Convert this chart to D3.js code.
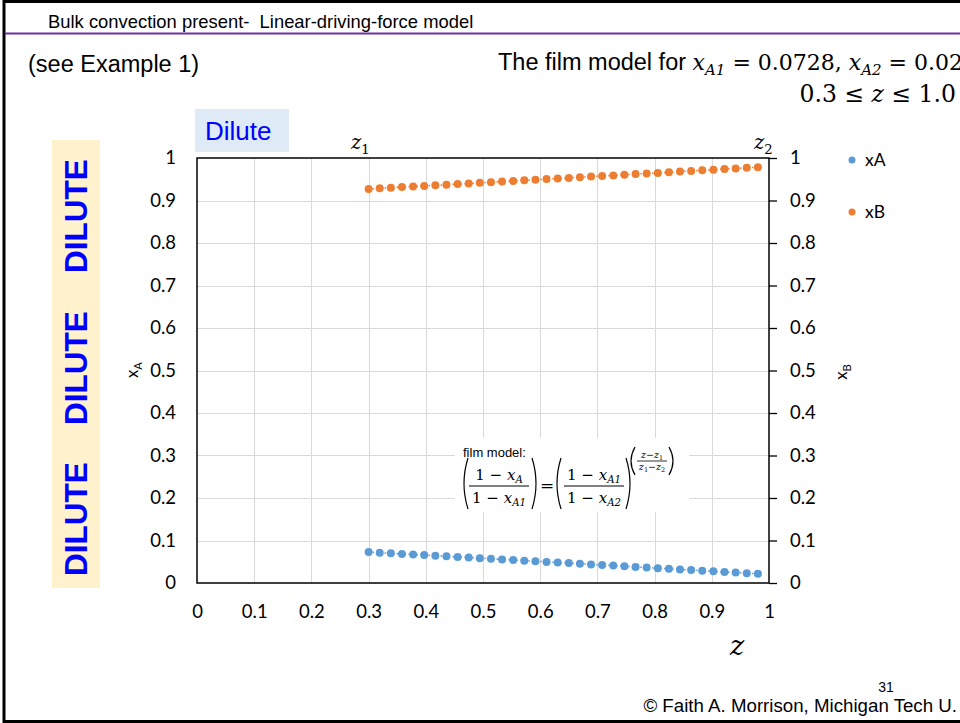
<!DOCTYPE html>
<html>
<head>
<meta charset="utf-8">
<script src="https://cdn.jsdelivr.net/npm/d3@7"></script>
<style>
  body { margin: 0; background: #fff; }
  svg { display: block; }
</style>
</head>
<body>
<svg id="slide" width="960" height="723"></svg>
<script>
// film model points
const zValues = [0.3, 0.3194, 0.3389, 0.3583, 0.3778, 0.3972, 0.4167, 0.4361, 0.4556, 0.475,
                 0.4944, 0.5139, 0.5333, 0.5528, 0.5722, 0.5917, 0.6111, 0.6306, 0.65, 0.6694,
                 0.6889, 0.7083, 0.7278, 0.7472, 0.7667, 0.7861, 0.8056, 0.825, 0.8444, 0.8639,
                 0.8833, 0.9028, 0.9222, 0.9417, 0.9611, 0.9806];
const xAValues = [0.0728, 0.0714, 0.0699, 0.0685, 0.0671, 0.0656, 0.0642, 0.0628, 0.0613, 0.0599,
                  0.0584, 0.0570, 0.0555, 0.0541, 0.0526, 0.0512, 0.0497, 0.0482, 0.0468, 0.0453,
                  0.0438, 0.0424, 0.0409, 0.0394, 0.0379, 0.0365, 0.0350, 0.0335, 0.0320, 0.0305,
                  0.0290, 0.0275, 0.0260, 0.0245, 0.0230, 0.0215];
const xBValues = [0.9272, 0.9286, 0.9301, 0.9315, 0.9329, 0.9344, 0.9358, 0.9372, 0.9387, 0.9401,
                  0.9416, 0.9430, 0.9445, 0.9459, 0.9474, 0.9488, 0.9503, 0.9518, 0.9532, 0.9547,
                  0.9562, 0.9576, 0.9591, 0.9606, 0.9621, 0.9635, 0.9650, 0.9665, 0.9680, 0.9695,
                  0.9710, 0.9725, 0.9740, 0.9755, 0.9770, 0.9785];
const seriesNames = ['xA', 'xB'];
const seriesColors = ['#5B9BD5', '#ED7D31'];
const xTicks = [0, 0.1, 0.2, 0.3, 0.4, 0.5, 0.6, 0.7, 0.8, 0.9, 1];
const yTicks = [0, 0.1, 0.2, 0.3, 0.4, 0.5, 0.6, 0.7, 0.8, 0.9, 1];

window.Slide = window.Slide || {};

Slide.init = function() {
    Slide.setup.initConst();
    Slide.setup.initObjects();
    Slide.core.drawFrame();
    Slide.core.drawPlot();
    Slide.core.drawEquation();
    Slide.core.drawText();
};

Slide.setup = {
    initConst: function() {
        Slide.left = 197;
        Slide.right = 769;
        Slide.top = 158;
        Slide.bottom = 583;
        Slide.tickFont = 'Lato, "Liberation Sans", sans-serif';
        Slide.textFont = '"Liberation Sans", Arial, sans-serif';
        Slide.mathFont = '"DejaVu Serif", "Liberation Serif", serif';
    },

    initObjects: function() {
        Slide.svg = d3.select('#slide');
        Slide.x = d3.scaleLinear().domain([0, 1]).range([Slide.left, Slide.right]);
        Slide.y = d3.scaleLinear().domain([0, 1]).range([Slide.bottom, Slide.top]);
        Slide.series = [
            { name: seriesNames[0], color: seriesColors[0], values: xAValues },
            { name: seriesNames[1], color: seriesColors[1], values: xBValues }
        ];
    }
};

Slide.helpers = {
    // text with a base and a small subscript
    subText: function(g, x, y, base, sub, size, opts) {
        opts = opts || {};
        let t = g.append('text')
            .attr('x', x).attr('y', y)
            .attr('font-family', opts.family || Slide.mathFont)
            .attr('font-size', size)
            .attr('text-anchor', opts.anchor || 'start')
            .attr('fill', '#000');
        t.append('tspan').attr('font-style', opts.italic === false ? 'normal' : 'italic').text(base);
        t.append('tspan').attr('font-size', size * 0.68).attr('dy', size * 0.25)
            .attr('font-style', opts.subItalic === false ? 'normal' : 'italic').text(sub);
        return t;
    },

    paren: function(g, x, yTop, yBot, left) {
        let w = 5, h = yBot - yTop;
        let p = left
            ? `M${x + w},${yTop} Q${x - w * 0.6},${yTop + h / 2} ${x + w},${yBot}`
            : `M${x},${yTop} Q${x + w * 1.6},${yTop + h / 2} ${x},${yBot}`;
        g.append('path').attr('d', p).attr('fill', 'none').attr('stroke', '#000').attr('stroke-width', 1.2);
    },

    fraction: function(g, cx, yLine, num, den, size) {
        let lineHalf = 30;
        g.append('line').attr('x1', cx - lineHalf).attr('x2', cx + lineHalf)
            .attr('y1', yLine).attr('y2', yLine).attr('stroke', '#000').attr('stroke-width', 1);
        Slide.helpers.mathExpr(g, cx, yLine - 6, num, size);
        Slide.helpers.mathExpr(g, cx, yLine + 17, den, size);
    },

    // "1 − x_sub"
    mathExpr: function(g, cx, y, sub, size) {
        let t = g.append('text').attr('x', cx).attr('y', y).attr('text-anchor', 'middle')
            .attr('font-family', Slide.mathFont).attr('font-size', size);
        t.append('tspan').text('1 − ');
        t.append('tspan').attr('font-style', 'italic').text('x');
        t.append('tspan').attr('font-style', 'italic').attr('font-size', size * 0.68).attr('dy', size * 0.22).text(sub);
    }
};

Slide.core = {
    drawFrame: function() {
        let svg = Slide.svg;
        svg.append('rect').attr('x', 4).attr('y', 1.5).attr('width', 960).attr('height', 720)
            .attr('fill', 'none').attr('stroke', '#000').attr('stroke-width', 3);
        svg.append('line').attr('x1', 5).attr('x2', 960).attr('y1', 33.5).attr('y2', 33.5)
            .attr('stroke', '#7030A0').attr('stroke-width', 2);
        svg.append('text').attr('x', 48).attr('y', 28).attr('font-family', Slide.textFont)
            .attr('font-size', 18.4).text('Bulk convection present-\u00a0 Linear-driving-force model');
    },

    drawPlot: function() {
        let svg = Slide.svg, x = Slide.x, y = Slide.y;
        let grid = svg.append('g').attr('stroke', '#D9D9D9').attr('stroke-width', 1);
        grid.selectAll('.vg').data(xTicks.slice(1, -1)).join('line')
            .attr('x1', d => Math.round(x(d)) + 0.5).attr('x2', d => Math.round(x(d)) + 0.5)
            .attr('y1', Slide.top).attr('y2', Slide.bottom);
        grid.selectAll('.hg').data(yTicks.slice(1, -1)).join('line')
            .attr('y1', d => Math.round(y(d)) + 0.5).attr('y2', d => Math.round(y(d)) + 0.5)
            .attr('x1', Slide.left).attr('x2', Slide.right);

        // left axis
        let gl = svg.append('g').attr('transform', `translate(${Slide.left},0)`)
            .call(d3.axisLeft(y).tickValues(yTicks).tickSize(0).tickPadding(21).tickFormat(d3.format('')));
        // right axis
        let gr = svg.append('g').attr('transform', `translate(${Slide.right},0)`)
            .call(d3.axisRight(y).tickValues(yTicks).tickSize(8).tickPadding(13).tickFormat(d3.format('')));
        // bottom axis
        let gb = svg.append('g').attr('transform', `translate(0,${Slide.bottom})`)
            .call(d3.axisBottom(x).tickValues(xTicks).tickSize(0).tickPadding(22).tickFormat(d3.format('')));
        [gl, gr, gb].forEach(g => {
            g.selectAll('.domain').remove();
            g.selectAll('text').attr('font-family', Slide.tickFont).attr('font-size', 18.5).attr('fill', '#000');
            g.selectAll('line').attr('stroke', '#000').attr('stroke-width', 1.3);
        });
        svg.append('rect').attr('x', Slide.left).attr('y', Slide.top)
            .attr('width', Slide.right - Slide.left).attr('height', Slide.bottom - Slide.top)
            .attr('fill', 'none').attr('stroke', '#000').attr('stroke-width', 1.5);

        // white box behind the equation
        svg.append('rect').attr('x', 455).attr('y', 438).attr('width', 234).attr('height', 74).attr('fill', '#fff');

        // series
        let line = d3.line().x((d, i) => x(zValues[i])).y(d => y(d));
        Slide.series.forEach(s => {
            svg.append('path').datum(s.values).attr('d', line).attr('fill', 'none')
                .attr('stroke', s.color).attr('stroke-width', 1.5).attr('stroke-dasharray', '1.5,2.5');
            svg.append('g').selectAll('circle').data(s.values).join('circle')
                .attr('cx', (d, i) => x(zValues[i])).attr('cy', d => y(d)).attr('r', 4)
                .attr('fill', s.color);
        });

        // legend
        let lg = svg.append('g');
        Slide.series.forEach((s, i) => {
            lg.append('circle').attr('cx', 852).attr('cy', 160 + i * 52).attr('r', 3.5).attr('fill', s.color);
            lg.append('text').attr('x', 865).attr('y', 166 + i * 52).attr('font-family', Slide.tickFont)
                .attr('font-size', 17.5).text(s.name);
        });

        // axis titles
        let ya = svg.append('g').attr('transform', 'translate(138,370) rotate(-90)');
        Slide.helpers.subText(ya, 0, 0, 'x', 'A', 16.5, { family: Slide.tickFont, italic: false, subItalic: false, anchor: 'middle' });
        let yb = svg.append('g').attr('transform', 'translate(847,372) rotate(-90)');
        Slide.helpers.subText(yb, 0, 0, 'x', 'B', 16.5, { family: Slide.tickFont, italic: false, subItalic: false, anchor: 'middle' });
        svg.append('text').attr('x', 737).attr('y', 655).attr('text-anchor', 'middle')
            .attr('font-family', Slide.mathFont).attr('font-style', 'italic').attr('font-size', 27).text('z');
        Slide.helpers.subText(svg, 351, 149, 'z', '1', 19.5, { subItalic: false });
        Slide.helpers.subText(svg, 754, 149, 'z', '2', 19.5, { subItalic: false });
    },

    drawEquation: function() {
        let g = Slide.svg.append('g');
        g.append('text').attr('x', 463).attr('y', 457).attr('font-family', Slide.textFont)
            .attr('font-size', 13).text('film model:');
        let size = 15;
        Slide.helpers.paren(g, 463, 458, 509, true);
        Slide.helpers.fraction(g, 499, 486, 'A', 'A1', size);
        Slide.helpers.paren(g, 532, 458, 509, false);
        g.append('text').attr('x', 547).attr('y', 491).attr('text-anchor', 'middle')
            .attr('font-family', Slide.mathFont).attr('font-size', 17).text('=');
        Slide.helpers.paren(g, 556, 458, 509, true);
        Slide.helpers.fraction(g, 594, 486, 'A1', 'A2', size);
        Slide.helpers.paren(g, 626, 458, 509, false);
        // exponent
        Slide.helpers.paren(g, 630, 447, 475, true);
        let ex = g.append('g');
        ex.append('line').attr('x1', 637).attr('x2', 667).attr('y1', 461).attr('y2', 461)
            .attr('stroke', '#000').attr('stroke-width', 0.8);
        Slide.helpers.subText(ex, 652, 458, 'z−z', '1', 9.5, { anchor: 'middle', subItalic: false });
        let den = ex.append('text').attr('x', 652).attr('y', 470).attr('text-anchor', 'middle')
            .attr('font-family', Slide.mathFont).attr('font-size', 9.5);
        den.append('tspan').attr('font-style', 'italic').text('z');
        den.append('tspan').attr('font-size', 6.5).attr('dy', 2).text('1');
        den.append('tspan').attr('dy', -2).text('−');
        den.append('tspan').attr('font-style', 'italic').text('z');
        den.append('tspan').attr('font-size', 6.5).attr('dy', 2).text('2');
        Slide.helpers.paren(g, 669, 447, 475, false);
    },

    drawText: function() {
        let svg = Slide.svg;
        svg.append('text').attr('x', 28).attr('y', 72).attr('font-family', Slide.textFont)
            .attr('font-size', 23.5).text('(see Example 1)');

        let t = svg.append('text').attr('x', 963).attr('y', 70).attr('text-anchor', 'end')
            .attr('font-family', Slide.mathFont).attr('font-size', 22);
        t.append('tspan').attr('font-family', Slide.textFont).attr('font-size', 23.5).text('The film model for ');
        t.append('tspan').attr('font-style', 'italic').text('x');
        t.append('tspan').attr('font-style', 'italic').attr('font-size', 15).attr('dy', 5).text('A1');
        t.append('tspan').attr('dy', -5).text(' = 0.0728, ');
        t.append('tspan').attr('font-style', 'italic').text('x');
        t.append('tspan').attr('font-style', 'italic').attr('font-size', 15).attr('dy', 5).text('A2');
        t.append('tspan').attr('dy', -5).text(' = 0.02');

        let t2 = svg.append('text').attr('x', 956).attr('y', 102).attr('text-anchor', 'end')
            .attr('font-family', Slide.mathFont).attr('font-size', 23.5);
        t2.append('tspan').text('0.3 ≤ ');
        t2.append('tspan').attr('font-style', 'italic').text('z');
        t2.append('tspan').text(' ≤ 1.0');

        // Dilute tag
        svg.append('rect').attr('x', 195).attr('y', 109).attr('width', 94).attr('height', 43).attr('fill', '#DEEBF7');
        svg.append('text').attr('x', 205).attr('y', 140).attr('font-family', Slide.textFont)
            .attr('font-size', 26).attr('fill', '#0000FF').text('Dilute');

        // vertical DILUTE banner
        svg.append('rect').attr('x', 52).attr('y', 140).attr('width', 48).attr('height', 448).attr('fill', '#FFF2CC');
        [216, 368, 519].forEach(cy => {
            svg.append('text').attr('transform', `translate(87,${cy}) rotate(-90)`)
                .attr('text-anchor', 'middle').attr('font-family', Slide.textFont).attr('font-weight', 'bold')
                .attr('font-size', 31.5).attr('fill', '#0000FF').text('DILUTE');
        });

        svg.append('text').attr('x', 886).attr('y', 692).attr('text-anchor', 'middle')
            .attr('font-family', Slide.textFont).attr('font-size', 14).text('31');
        svg.append('text').attr('x', 957).attr('y', 712).attr('text-anchor', 'end')
            .attr('font-family', Slide.textFont).attr('font-size', 18.7).text('© Faith A. Morrison, Michigan Tech U.');
    }
};

Slide.init();
</script>
</body>
</html>
